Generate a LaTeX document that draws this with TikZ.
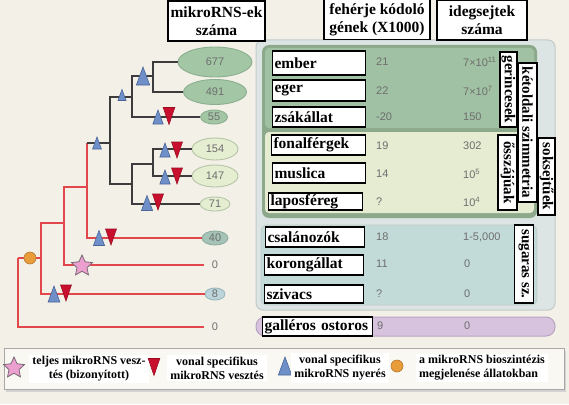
\documentclass[tikz,border=0pt]{standalone}
\usepackage{fontspec}
\setmainfont{Liberation Serif}
\newfontfamily\numfont{Liberation Sans}
\usetikzlibrary{shapes.geometric}
\definecolor{bg}{HTML}{F3F0E8}
\definecolor{panelout}{HTML}{DCE5E3}
\definecolor{panelbd}{HTML}{C2CBC9}
\definecolor{bilat}{HTML}{8DA98C}
\definecolor{vert}{HTML}{A0C1A3}
\definecolor{proto}{HTML}{E5ECD2}
\definecolor{cnid}{HTML}{C3DBD8}
\definecolor{lav}{HTML}{D7C3DE}
\definecolor{lavbd}{HTML}{B8A3C2}
\definecolor{egreen}{HTML}{A3C6A5}
\definecolor{egreenbd}{HTML}{8BAF8E}
\definecolor{elight}{HTML}{E6EED2}
\definecolor{elightbd}{HTML}{B5C4A5}
\definecolor{eteal}{HTML}{A5C3B7}
\definecolor{etealbd}{HTML}{8DAE9E}
\definecolor{eblue}{HTML}{BDD5DA}
\definecolor{ebluebd}{HTML}{98B7BE}
\definecolor{numgray}{HTML}{6E6E6E}
\definecolor{redline}{HTML}{E2474B}
\definecolor{blackline}{HTML}{3C3C3C}
\definecolor{triblue}{HTML}{6F8FC8}
\definecolor{tribluebd}{HTML}{4A6699}
\definecolor{trired}{HTML}{C8102E}
\definecolor{triredbd}{HTML}{9A0C22}
\definecolor{pinkstar}{HTML}{EBA0CF}
\definecolor{pinkbd}{HTML}{7A6A76}
\definecolor{orangedot}{HTML}{E99C3A}
\definecolor{orangebd}{HTML}{B7772A}
\definecolor{legbd}{HTML}{A8A8A8}
\tikzset{
  lb/.style={draw=black, line width=1.6pt, fill=white, inner xsep=2pt, inner ysep=0pt,
    align=left, font=\bfseries\fontsize{15.5}{17}\selectfont},
  hd/.style={draw=black, line width=1.6pt, fill=white, inner sep=0pt, align=center,
    font=\bfseries\fontsize{15.5}{18}\selectfont},
  vl/.style={draw=black, line width=1.6pt, fill=white, inner sep=0pt, rotate=-90,
    font=\bfseries\fontsize{15}{17}\selectfont},
  num/.style={anchor=west, inner sep=0pt, text=numgray, font=\numfont\fontsize{11}{13}\selectfont},
  enum/.style={ellipse, inner sep=0pt, text=numgray, line width=0.9pt, font=\numfont\fontsize{11}{13}\selectfont},
  zero/.style={inner xsep=8pt, inner ysep=2pt, text=numgray, font=\numfont\fontsize{11}{13}\selectfont},
  bl/.style={draw=blackline, line width=2pt},
  rl/.style={draw=redline, line width=2pt},
  leg/.style={fill=white, inner xsep=3pt, inner ysep=2pt, font=\bfseries\fontsize{12}{14}\selectfont},
  pics/bup/.style={code={\filldraw[fill=triblue, draw=tribluebd, line width=0.6pt]
      (-#1*0.37,#1/2) -- (#1*0.37,#1/2) -- (0,-#1/2) -- cycle;}},
  pics/rdn/.style={code={\filldraw[fill=trired, draw=triredbd, line width=0.6pt]
      (-#1*0.34,-#1/2) -- (#1*0.34,-#1/2) -- (0,#1/2) -- cycle;}},
}
\begin{document}
\begin{tikzpicture}[x=1pt,y=-1pt]
\useasboundingbox (0,0) rectangle (569,404);
\fill[bg] (0,0) rectangle (569,404);

% panels
\draw[fill=panelout, draw=panelbd, line width=1pt, rounded corners=7pt] (256,40) rectangle (555,310);
\fill[bilat, rounded corners=7pt] (262,45) rectangle (537,218);
\fill[vert, rounded corners=4pt] (265,48) rectangle (534,128);
\fill[proto, rounded corners=4pt] (265,132) rectangle (534,213);
\draw[fill=cnid, draw=panelbd, line width=0.6pt, rounded corners=6pt] (261,225) rectangle (537,305);
\draw[fill=lav, draw=lavbd, line width=1pt, rounded corners=9pt] (256,317) rectangle (555,336);

% headers
\node[hd, minimum width=97pt, minimum height=40pt] (h1) at (216.5,21) {mikroRNS-ek\\száma};
\node[hd, minimum width=106pt, minimum height=40pt] (h2) at (377,19.5) {fehérje kódoló\\gének (X1000)};
\node[hd, minimum width=90pt, minimum height=40pt] (h3) at (482,20) {idegsejtek\\száma};

% row labels
\node[lb, text width=89pt, minimum height=24pt] (ember) at (319,63) {ember};
\node[lb, text width=89pt, minimum height=21pt] (eger) at (319,90.5) {eger};
\node[lb, text width=89pt, minimum height=20pt] (zsak) at (319,117) {zsákállat};
\node[lb, text width=90pt, minimum height=20pt] (fonal) at (318.5,145) { fonalférgek};
\node[lb, text width=89pt, minimum height=20pt] (musl) at (319,173) { muslica};
\node[lb, text width=90pt, minimum height=17pt] (lapos) at (315.5,201.5) {laposféreg};
\node[lb, text width=95pt, minimum height=20pt] (csal) at (315,237) {csalánozók};
\node[lb, text width=95pt, minimum height=20pt] (korong) at (314,265) {korongállat};
\node[lb, text width=95pt, minimum height=18pt] (sziv) at (314,294) {szivacs};
\node[lb, text width=106pt, minimum height=19pt] (gall) at (317.5,326.5) {galléros ostoros};

% numbers
\node[num] (g1) at (376,62) {21};
\node[num] (g2) at (376,91) {22};
\node[num] (g3) at (376,117) {-20};
\node[num] (g4) at (376,146) {19};
\node[num] (g5) at (376,174) {14};
\node[num] (g6) at (376,202) {?};
\node[num] (g7) at (376,237) {18};
\node[num] (g8) at (376,264) {11};
\node[num] (g9) at (376,294) {?};
\node[num] (g10) at (377,326) {9};
\node[num] (n1) at (463,62) {7×10\textsuperscript{11}};
\node[num] (n2) at (463,91) {7×10\textsuperscript{7}};
\node[num] (n3) at (463,117) {150};
\node[num] (n4) at (463,146) {302};
\node[num] (n5) at (463,174) {10\textsuperscript{5}};
\node[num] (n6) at (463,202) {10\textsuperscript{4}};
\node[num] (n7) at (463,237) {1-5,000};
\node[num] (n8) at (464,264) {0};
\node[num] (n9) at (464,294) {0};
\node[num] (n10) at (464,326) {0};

% vertical labels
\node[vl, minimum width=75pt, minimum height=17pt] (gerinc) at (508.5,89.5) {gerincesek};
\node[vl, minimum width=139pt, minimum height=19pt] (ketold) at (527.5,132.5) {kétoldali szimmetria};
\node[vl, minimum width=75pt, minimum height=19pt] (osszaj) at (507.5,172.5) {ősszájúak};
\node[vl, minimum width=77pt, minimum height=17pt] (soks) at (546.5,176.5) {soksejtűek};
\node[vl, minimum width=78pt, minimum height=19pt] (sugar) at (524,264) {sugaras sz.};

% leaf ellipses
\node[enum, fill=egreen, draw=egreenbd, minimum width=74pt, minimum height=30pt] (e677) at (215,62) {677};
\node[enum, fill=egreen, draw=egreenbd, minimum width=63pt, minimum height=25pt] (e491) at (215,92) {491};
\node[enum, fill=egreen, draw=egreenbd, minimum width=27pt, minimum height=14pt] (e55) at (214,117) {55};
\node[enum, fill=elight, draw=elightbd, minimum width=46pt, minimum height=22pt] (e154) at (215,149) {154};
\node[enum, fill=elight, draw=elightbd, minimum width=46pt, minimum height=22pt] (e147) at (215,176) {147};
\node[enum, fill=elight, draw=elightbd, minimum width=30pt, minimum height=14pt] (e71) at (215,204) {71};
\node[enum, fill=eteal, draw=etealbd, minimum width=26pt, minimum height=14pt] (e40) at (215,238) {40};
\node[zero] (z1) at (215,265) {0};
\node[enum, fill=eblue, draw=ebluebd, minimum width=20pt, minimum height=12pt] (e8) at (215,294) {8};
\node[zero] (z2) at (215,327) {0};

% junctions
\coordinate (R) at (18,258);
\coordinate (M) at (41,258);
\coordinate (E) at (64,223);
\coordinate (C) at (87,187);
\coordinate (Ct) at (87,143);
\coordinate (B) at (110,143);
\coordinate (D) at (132,97);
\coordinate (Dp) at (110,97);
\coordinate (A) at (153,76);
\coordinate (Ap) at (132,76);
\coordinate (P) at (132,184);
\coordinate (Pp) at (110,184);
\coordinate (Q) at (153,164);
\coordinate (Qp) at (132,164);

% red part
\draw[rl] (R) |- (z2);
\draw[rl] (R) -- (M);
\draw[rl] (M) |- (E);
\draw[rl] (M) |- (e8);
\draw[rl] (E) |- (C);
\draw[rl] (E) |- (z1);
\draw[rl] (C) -- (Ct);
\draw[rl] (C) |- (e40);
% black part
\draw[bl] (Ct) -- (B);
\draw[bl] (B) -- (Dp) -- (D);
\draw[bl] (B) -- (Pp) -- (P);
\draw[bl] (D) -- (Ap) -- (A);
\draw[bl] (D) |- (e55);
\draw[bl] (A) |- (e677);
\draw[bl] (A) |- (e491);
\draw[bl] (P) -- (Qp) -- (Q);
\draw[bl] (P) |- (e71);
\draw[bl] (Q) |- (e154);
\draw[bl] (Q) |- (e147);

% markers
\node[circle, fill=orangedot, draw=orangebd, line width=0.6pt, minimum size=12pt, inner sep=0pt] (orig) at (30,258) {};
\node[star, star points=5, star point ratio=2.1, fill=pinkstar, draw=pinkbd, line width=0.8pt, minimum size=22pt, inner sep=0pt] (loss) at (82,266) {};
\pic at (97,143) {bup=12};
\pic at (122,95) {bup=11};
\pic at (143,76) {bup=18};
\pic at (158,117) {bup=14};
\pic at (169,116) {rdn=17};
\pic at (165,150) {bup=14};
\pic at (177,150) {rdn=16};
\pic at (165,177) {bup=14};
\pic at (177,176) {rdn=16};
\pic at (147,203) {bup=15};
\pic at (158,202) {rdn=16};
\pic at (99,238) {bup=15};
\pic at (111,237) {rdn=16};
\pic at (54,294) {bup=16};
\pic at (66,293) {rdn=16};

% legend
\fill[gray!35] (6,351) rectangle (566,392);
\draw[fill=bg!50!white, draw=legbd, line width=0.8pt] (4,348) rectangle (564,389);
\node[star, star points=5, star point ratio=2.1, fill=pinkstar, draw=pinkbd, line width=0.8pt, minimum size=22pt, inner sep=0pt] (lstar) at (14,368) {};
\node[leg, align=center] (l1) at (89,369) {teljes mikroRNS vesz-\\tés (bizonyított)};
\pic at (154,367) {rdn=17};
\node[leg, align=center] (l2) at (217,368) {vonal specifikus\\mikroRNS vesztés};
\pic at (285,366) {bup=18};
\node[leg, align=center] (l3) at (340,368) {vonal specifikus\\mikroRNS nyerés};
\node[circle, fill=orangedot, draw=orangebd, line width=0.6pt, minimum size=12pt, inner sep=0pt] (lorig) at (397,366) {};
\node[leg, align=left] (l4) at (482,368) {a mikroRNS bioszintézis\\megjelenése állatokban};
\end{tikzpicture}
\end{document}
